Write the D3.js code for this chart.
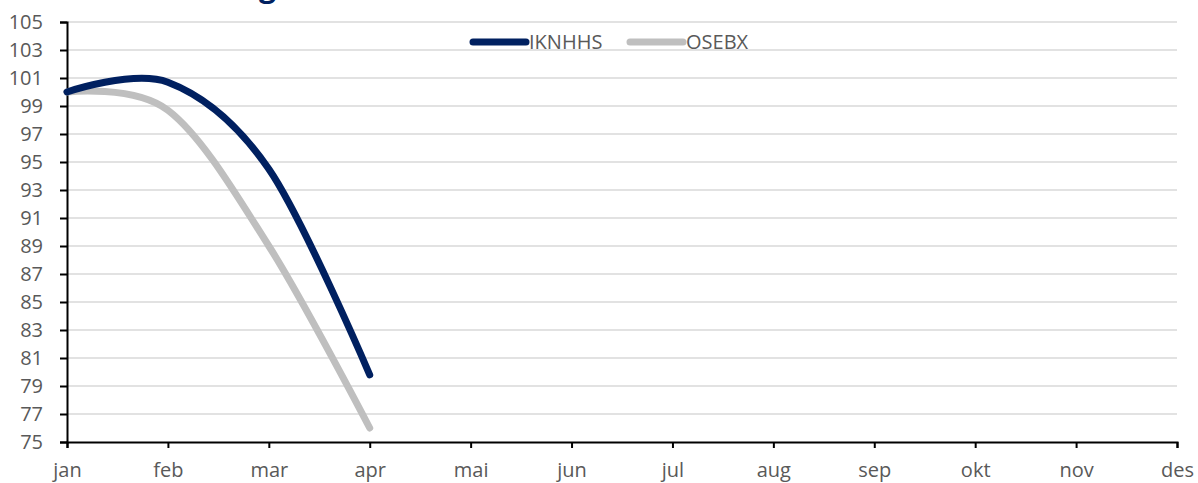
<!DOCTYPE html>
<html>
<head>
<meta charset='utf-8'>
<title>IKNHHS vs OSEBX</title>
<script src='https://cdn.jsdelivr.net/npm/d3@7'></script>
<style>
  body { margin: 0; background: #fff; }
  text { font-family: 'Open Sans', 'Liberation Sans', sans-serif; }
</style>
</head>
<body>
<svg width='1198' height='483'></svg>
<script>
const months = ['jan', 'feb', 'mar', 'apr', 'mai', 'jun', 'jul', 'aug', 'sep', 'okt', 'nov', 'des']
const iknhhs = [100, 100.7, 94.5, 79.8]
const osebx = [100, 98.7, 89.0, 76.0]
const yTicks = d3.range(75, 106, 2)
const seriesNames = ['IKNHHS', 'OSEBX']
const colors = ['#002060', '#bfbfbf']

const svg = d3.select('svg')
const plot = { left: 67, right: 1177, top: 22, bottom: 442 }
const fontFam = "'Open Sans', 'Liberation Sans', sans-serif"

const x = d3.scaleLinear([0, months.length - 1], [plot.left, plot.right])
const y = d3.scaleLinear([75, 105], [plot.bottom, plot.top])

// title, sits mostly above the visible area like in the original
svg.append('text')
  .attr('x', 276).attr('y', -3)
  .attr('text-anchor', 'end')
  .attr('font-size', 30).attr('font-weight', 'bold')
  .attr('fill', '#002060')
  .text('Kursutvikling')

// grid
svg.append('g').selectAll('line')
  .data(yTicks.filter(d => d > 75))
  .join('line')
  .attr('x1', plot.left).attr('x2', plot.right)
  .attr('y1', d => y(d)).attr('y2', d => y(d))
  .attr('stroke', '#d9d9d9').attr('stroke-width', 1.5)

// axes
const yAxis = svg.append('g').attr('transform', `translate(${plot.left},0)`)
  .call(d3.axisLeft(y).tickValues(yTicks).tickSize(7).tickPadding(17).tickFormat(d3.format('d')))
const xAxis = svg.append('g').attr('transform', `translate(0,${plot.bottom})`)
  .call(d3.axisBottom(x).tickValues(d3.range(months.length)).tickSize(6).tickPadding(15).tickFormat(i => months[i]))
;[xAxis, yAxis].forEach(a => {
  a.select('.domain').attr('stroke', '#000').attr('stroke-width', 2)
  a.selectAll('.tick line').attr('stroke', '#000').attr('stroke-width', 2)
  a.selectAll('.tick text').attr('fill', '#595959').attr('font-size', 20)
    .attr('font-family', fontFam)
})

// lines (gray first, navy on top)
const line = d3.line()
  .x((d, i) => x(i)).y(d => y(d))
  .curve(d3.curveCatmullRom.alpha(0))
;[[osebx, colors[1]], [iknhhs, colors[0]]].forEach(([s, c]) => {
  svg.append('path').datum(s)
    .attr('d', line)
    .attr('fill', 'none')
    .attr('stroke', c).attr('stroke-width', 7)
    .attr('stroke-linecap', 'round').attr('stroke-linejoin', 'round')
})

// legend
const legendX = [473, 630]
seriesNames.forEach((n, k) => {
  const g = svg.append('g').attr('transform', `translate(${legendX[k]},42)`)
  g.append('line').attr('x1', 0).attr('x2', 53)
    .attr('stroke', colors[k]).attr('stroke-width', 7).attr('stroke-linecap', 'round')
  g.append('text').attr('x', 56).attr('y', 0).attr('dy', '0.35em')
    .attr('fill', '#595959').attr('font-size', 20).text(n)
})
</script>
</body>
</html>
